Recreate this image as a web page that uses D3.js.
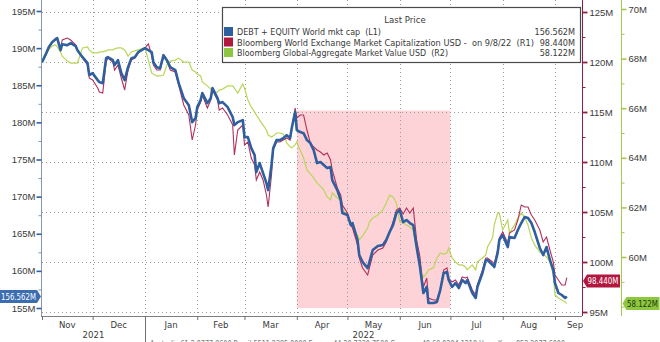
<!DOCTYPE html>
<html><head><meta charset="utf-8">
<script src="https://cdn.jsdelivr.net/npm/d3@7"></script>
<style>
body{margin:0;background:#fff;}
svg{display:block;font-family:'DejaVu Sans Condensed','DejaVu Sans',sans-serif;}
text{white-space:pre;}
</style>
</head><body>
<svg id="c" width="660" height="342"></svg>
<script>
// ---------------- DATA ----------------
const dates = ["2021-11-01","2021-11-03","2021-11-05","2021-11-07","2021-11-09","2021-11-10","2021-11-12","2021-11-13","2021-11-16","2021-11-18","2021-11-21","2021-11-22","2021-11-25","2021-11-28","2021-11-29",
"2021-12-01","2021-12-04","2021-12-05","2021-12-07","2021-12-09","2021-12-10","2021-12-13","2021-12-14","2021-12-16","2021-12-18","2021-12-20","2021-12-22","2021-12-24","2021-12-26","2021-12-28","2021-12-30",
"2022-01-01","2022-01-03","2022-01-05","2022-01-06","2022-01-08","2022-01-10","2022-01-12","2022-01-14","2022-01-16","2022-01-19","2022-01-21","2022-01-24","2022-01-27","2022-01-29","2022-01-31",
"2022-02-01","2022-02-03","2022-02-04","2022-02-07","2022-02-09","2022-02-10","2022-02-13","2022-02-14","2022-02-16","2022-02-19","2022-02-22","2022-02-23","2022-02-25","2022-02-28",
"2022-03-01","2022-03-03","2022-03-05","2022-03-07","2022-03-08","2022-03-10","2022-03-12","2022-03-14","2022-03-15","2022-03-17","2022-03-18","2022-03-20","2022-03-22","2022-03-24","2022-03-26","2022-03-28","2022-03-29","2022-03-31",
"2022-04-01","2022-04-03","2022-04-05","2022-04-07","2022-04-09","2022-04-11","2022-04-13","2022-04-15","2022-04-17","2022-04-19","2022-04-21","2022-04-22","2022-04-25","2022-04-27","2022-04-28",
"2022-05-01","2022-05-03","2022-05-04","2022-05-07","2022-05-08","2022-05-10","2022-05-13","2022-05-14","2022-05-16","2022-05-19","2022-05-22","2022-05-24","2022-05-26","2022-05-28","2022-05-30",
"2022-06-01","2022-06-03","2022-06-05","2022-06-07","2022-06-09","2022-06-11","2022-06-13","2022-06-14","2022-06-15","2022-06-17","2022-06-18","2022-06-21","2022-06-23","2022-06-25","2022-06-27","2022-06-29","2022-06-30",
"2022-07-02","2022-07-04","2022-07-06","2022-07-08","2022-07-10","2022-07-11","2022-07-14","2022-07-16","2022-07-17","2022-07-20","2022-07-22","2022-07-23","2022-07-26","2022-07-27","2022-07-29","2022-07-30",
"2022-08-01","2022-08-04","2022-08-05","2022-08-08","2022-08-10","2022-08-12","2022-08-14","2022-08-16","2022-08-18","2022-08-20","2022-08-23","2022-08-25","2022-08-27","2022-08-29","2022-08-31",
"2022-09-01","2022-09-03","2022-09-05","2022-09-07","2022-09-08"];

// DEBT + EQUITY World mkt cap (L1), millions
const debtEquity = [188.11,189.05,190.13,190.80,191.20,191.34,189.72,190.53,190.40,190.67,190.26,189.72,188.78,187.97,186.36,
186.63,185.69,185.42,185.28,188.65,188.78,188.38,187.71,188.38,186.63,185.69,187.44,188.65,188.78,189.45,189.72,
189.99,189.72,189.45,188.11,187.44,187.30,189.05,188.38,187.44,187.03,185.28,183.26,182.32,180.03,180.57,
182.05,183.0,183.94,182.59,183.26,184.61,183.26,182.59,182.73,182.05,180.71,179.63,180.03,180.30,
178.01,178.01,176.53,175.59,173.30,174.52,173.17,171.82,170.88,174.25,176.53,177.61,177.61,177.88,178.28,177.88,179.23,181.38,
178.96,178.69,178.55,177.61,177.21,176.27,174.52,174.65,174.25,173.84,173.98,172.23,170.88,169.54,167.79,
167.52,166.17,166.44,164.15,162.13,161.19,160.38,161.19,162.81,163.34,163.48,164.15,165.23,166.17,167.79,
168.19,166.57,166.84,166.44,166.17,163.21,160.52,158.77,157.02,157.83,155.67,155.67,155.81,157.42,159.71,159.85,158.77,
157.83,158.36,157.69,158.77,158.36,158.77,157.02,156.35,157.83,159.71,161.46,161.46,160.79,160.52,162.40,164.15,
164.83,163.21,164.56,164.42,165.50,166.44,167.25,167.11,166.44,165.23,163.08,162.13,163.21,161.46,160.11,
158.36,157.02,156.75,156.35,156.562];

// Bloomberg World Exchange Market Capitalization USD (R1), millions
const worldExchange = [120.0,120.7,121.5,122.0,122.2,122.4,121.4,122.2,122.4,122.2,121.7,121.2,120.4,119.7,118.4,
118.2,117.4,117.0,116.9,120.0,120.4,120.0,119.2,119.7,118.4,117.2,119.2,120.2,120.4,120.9,121.2,
121.4,121.8,120.7,119.7,119.2,119.2,120.5,120.2,119.2,119.0,117.7,115.7,114.7,112.2,113.7,
115.2,116.0,116.7,115.4,116.2,117.2,116.2,115.2,115.4,114.7,113.7,110.7,113.2,113.7,
111.7,112.0,110.4,109.7,108.2,109.0,108.2,106.7,105.5,108.7,111.2,112.0,112.0,112.2,112.4,112.2,113.2,115.4,
114.4,114.7,114.7,113.2,111.9,111.5,111.2,111.0,110.7,110.9,110.2,109.2,107.4,106.7,105.7,
104.9,103.7,103.4,101.7,100.4,99.4,98.7,99.4,100.7,101.2,101.4,102.0,103.0,104.0,105.2,
105.4,104.8,105.4,104.9,105.4,102.2,100.5,98.7,97.5,98.4,96.4,96.2,96.2,97.2,99.2,99.4,98.4,
98.0,98.2,97.7,98.5,98.4,98.5,97.2,96.7,97.7,99.2,100.4,100.4,100.0,99.8,101.2,102.4,
103.0,101.9,102.9,103.2,104.2,105.7,105.5,105.5,104.7,104.2,103.2,102.0,102.5,101.2,100.0,
98.7,98.2,97.7,97.7,98.44];

// Bloomberg Global-Aggregate Market Value USD (R2), millions
const globalAgg = [67.86,68.10,68.35,68.51,68.55,68.47,68.27,68.10,67.90,67.82,67.82,67.82,68.43,68.47,68.35,
68.23,68.23,68.27,68.27,68.31,68.35,68.35,68.39,68.43,68.43,68.35,68.10,68.27,68.31,68.35,68.39,
68.43,67.94,67.42,67.38,67.30,67.30,67.34,67.74,67.90,67.94,68.02,67.86,67.86,67.54,67.46,
67.38,67.30,67.06,66.90,66.77,66.65,66.65,66.73,66.77,66.90,66.90,66.81,66.61,66.98,
66.81,66.33,66.05,65.85,65.73,65.52,65.32,65.12,64.92,64.84,64.88,65.00,65.00,64.96,64.60,64.44,64.40,64.52,
64.64,64.31,63.99,63.51,63.35,63.19,62.98,62.86,62.70,62.42,62.30,62.58,62.38,62.30,61.90,
61.69,61.41,61.17,60.89,60.69,60.85,61.17,61.41,61.57,61.69,61.90,62.18,62.50,62.42,62.18,
61.41,61.37,61.29,61.21,61.09,60.28,59.68,59.35,59.19,59.35,59.48,59.56,59.96,60.16,60.12,60.16,60.36,
59.96,59.80,59.68,59.68,59.60,59.48,59.68,59.48,59.80,59.96,60.08,60.40,60.77,61.29,61.77,61.77,
61.09,61.49,60.97,61.29,61.57,61.77,61.61,61.29,60.77,60.48,60.20,60.12,60.00,59.80,59.27,
58.47,58.35,58.27,58.19,58.122];

const leftTicks = [155,160,165,170,175,180,185,190,195];
const leftMinor = [157.5,162.5,167.5,172.5,177.5,182.5,187.5,192.5];
const r1Ticks = [95,100,105,110,115,120,125];
const r1Minor = [97.5,102.5,107.5,112.5,117.5,122.5];
const r2Ticks = [60,62,64,66,68,70];
const r2Minor = [58,59,61,63,65,67,69];
const monthLabels = ["Nov","Dec","Jan","Feb","Mar","Apr","May","Jun","Jul","Aug","Sep"];
const yearLabels = ["2021","2022"];
const legendTitle = "Last Price";
const legendNames = ["DEBT + EQUITY World mkt cap  (L1)",
  "Bloomberg World Exchange Market Capitalization USD -  on 9/8/22  (R1)",
  "Bloomberg Global-Aggregate Market Value USD  (R2)"];
const lastValues = ["156.562M","98.440M","58.122M"];
const shadeDates = ["2022-04-01","2022-07-01"];
const shadeValues = [155, 181.6];
const footer = "Australia 61 2 9777 8600 Brazil 5511 2395 9000 Europe 44 20 7330 7500 Germany 49 69 9204 1210 Hong Kong 852 2977 6000";

// ---------------- CHART ----------------
const parse = d3.utcParse("%Y-%m-%d");
const D = dates.map(parse);
const svg = d3.select("#c");
const C = {blue:"#2f5f9e", red:"#b1305c", green:"#b9d65a", redAx:"#8e1f42", greenAx:"#a6c94a",
           grid:"#9a9a9a", text:"#3a3a3a"};

const L = 42, R = 582, T = 0, B = 316;
const x = d3.scaleUtc().domain([parse("2021-11-01"), parse("2022-09-17")]).range([L, R]);
const yL = d3.scaleLinear().domain([155,195]).range([308,11]);
const yR1 = d3.scaleLinear().domain([95,125]).range([312,12]);
const yR2 = d3.scaleLinear().domain([60,70]).range([257,9]);

// shading
svg.append("rect")
  .attr("x", x(parse(shadeDates[0]))).attr("width", x(parse(shadeDates[1])) - x(parse(shadeDates[0])))
  .attr("y", yL(shadeValues[1])).attr("height", yL(shadeValues[0]) - yL(shadeValues[1]))
  .attr("fill", "#fdd3d7");

// grid
const months = d3.utcMonth.range(parse("2021-11-01"), parse("2022-10-01"));
svg.append("g").selectAll("line").data(months.slice(1)).join("line")
  .attr("x1", d => Math.round(x(d)) + 0.5).attr("x2", d => Math.round(x(d)) + 0.5)
  .attr("y1", T).attr("y2", B)
  .attr("stroke", C.grid).attr("stroke-dasharray", "1,3");
svg.append("g").selectAll("line").data(r1Ticks).join("line")
  .attr("x1", L).attr("x2", R)
  .attr("y1", d => Math.round(yR1(d)) + 0.5).attr("y2", d => Math.round(yR1(d)) + 0.5)
  .attr("stroke", C.grid).attr("stroke-dasharray", "1,3");

// lines
const mk = (ys, arr) => d3.line().x((d,i) => x(D[i])).y(d => ys(d))(arr);
svg.append("path").attr("d", mk(yR2, globalAgg)).attr("fill","none").attr("stroke",C.green).attr("stroke-width",1.2);
svg.append("path").attr("d", mk(yR1, worldExchange)).attr("fill","none").attr("stroke",C.red).attr("stroke-width",1.1);
svg.append("path").attr("d", mk(yL, debtEquity)).attr("fill","none").attr("stroke",C.blue).attr("stroke-width",2.6).attr("stroke-linejoin","round");

// bottom axis
svg.append("line").attr("x1", L-1).attr("x2", R).attr("y1", B+0.5).attr("y2", B+0.5).attr("stroke","#808080");
const xAx = svg.append("g").attr("transform", `translate(0,${B})`)
  .call(d3.axisBottom(x).tickValues(months.filter(d => x(d) <= R)).tickSize(4).tickFormat(""));
xAx.select(".domain").remove();
xAx.selectAll("line").attr("stroke","#707070");
// year separator
const jan1 = parse("2022-01-01");
svg.append("line").attr("x1", Math.round(x(jan1))+0.5).attr("x2", Math.round(x(jan1))+0.5)
  .attr("y1", B).attr("y2", 342).attr("stroke","#707070");
// month labels
months.slice(0, monthLabels.length).forEach((m, i) => {
  const n = d3.utcMonth.offset(m, 1);
  let cx = (x(m) + x(n)) / 2;
  cx = Math.min(cx, R - 7);
  svg.append("text").attr("x", cx).attr("y", 328).attr("text-anchor","middle")
    .attr("font-size", 9.5).attr("fill", C.text).text(monthLabels[i]);
});
// year labels
[[x.domain()[0], jan1], [jan1, x.domain()[1]]].forEach((r, i) => {
  svg.append("text").attr("x", (x(r[0]) + x(r[1])) / 2).attr("y", 338).attr("text-anchor","middle")
    .attr("font-size", 9.5).attr("fill", C.text).text(yearLabels[i]);
});
// footer (cut off at bottom of the picture, as in the source)
svg.append("text").attr("x", 150).attr("y", 346.5).attr("font-size", 8)
  .attr("textLength", 415).attr("lengthAdjust", "spacingAndGlyphs").attr("fill","#777").text(footer);

// left axis
svg.append("line").attr("x1", 41.5).attr("x2", 41.5).attr("y1", T).attr("y2", B).attr("stroke","#8797b3");
const lAx = svg.append("g").attr("transform","translate(41.5,0)")
  .call(d3.axisLeft(yL).tickValues(leftTicks).tickFormat(d => d + "M").tickSize(5).tickPadding(1));
lAx.select(".domain").remove();
lAx.selectAll("line").attr("stroke", C.blue).attr("stroke-width", 1.6);
lAx.selectAll("text").attr("font-size", 9.5).attr("fill", C.text).attr("font-family", null);
const lMin = svg.append("g").attr("transform","translate(41.5,0)")
  .call(d3.axisLeft(yL).tickValues(leftMinor).tickFormat("").tickSize(3));
lMin.select(".domain").remove();
lMin.selectAll("line").attr("stroke", "#7f93b8");

// right axis 1
svg.append("line").attr("x1", R+0.5).attr("x2", R+0.5).attr("y1", T).attr("y2", B).attr("stroke", C.redAx);
const r1 = svg.append("g").attr("transform",`translate(${R+0.5},0)`)
  .call(d3.axisRight(yR1).tickValues(r1Ticks).tickFormat(d => d + "M").tickSize(5).tickPadding(2));
r1.select(".domain").remove();
r1.selectAll("line").attr("stroke", C.redAx).attr("stroke-width", 1.8);
r1.selectAll("text").attr("font-size", 9.5).attr("fill", C.text).attr("font-family", null);
const r1m = svg.append("g").attr("transform",`translate(${R+0.5},0)`)
  .call(d3.axisRight(yR1).tickValues(r1Minor).tickFormat("").tickSize(3));
r1m.select(".domain").remove();
r1m.selectAll("line").attr("stroke", C.redAx);

// right axis 2
const R2X = 621.5;
svg.append("line").attr("x1", R2X).attr("x2", R2X).attr("y1", T).attr("y2", B).attr("stroke", C.greenAx);
const r2 = svg.append("g").attr("transform",`translate(${R2X},0)`)
  .call(d3.axisRight(yR2).tickValues(r2Ticks).tickFormat(d => d + "M").tickSize(5).tickPadding(2));
r2.select(".domain").remove();
r2.selectAll("line").attr("stroke", C.greenAx).attr("stroke-width", 1.6);
r2.selectAll("text").attr("font-size", 9.5).attr("fill", C.text).attr("font-family", null);
const r2m = svg.append("g").attr("transform",`translate(${R2X},0)`)
  .call(d3.axisRight(yR2).tickValues(r2Minor).tickFormat("").tickSize(3));
r2m.select(".domain").remove();
r2m.selectAll("line").attr("stroke", C.greenAx);

// last value labels
function tagLeft(yc, txt, fill, fg) { // pointing right, at left axis
  const h = 13, y0 = yc - h/2;
  svg.append("path").attr("d", `M0,${y0}H37L41,${yc}L37,${y0+h}H0Z`).attr("fill", fill);
  svg.append("text").attr("x", 1).attr("y", yc + 3.3).attr("font-size", 8.6)
    .attr("textLength", 35).attr("lengthAdjust", "spacingAndGlyphs").attr("fill", fg).text(txt);
}
function tagRight(x0, yc, w, txt, fill, fg) { // pointing left
  const h = 13, y0 = yc - h/2;
  svg.append("path").attr("d", `M${x0},${yc}L${x0+4},${y0}H${x0+w}V${y0+h}H${x0+4}Z`).attr("fill", fill);
  svg.append("text").attr("x", x0 + 4.5).attr("y", yc + 3.3).attr("font-size", 8.6)
    .attr("textLength", w - 6).attr("lengthAdjust", "spacingAndGlyphs").attr("fill", fg).text(txt);
}
tagLeft(yL(debtEquity[debtEquity.length-1]), lastValues[0], "#3b6db0", "#fff");
tagRight(R+1, yR1(worldExchange[worldExchange.length-1]) + 3.5, 37, lastValues[1], "#b3173f", "#fff");
tagRight(R2X+1, yR2(globalAgg[globalAgg.length-1]), 37, lastValues[2], "#8dc63f", "#1e3607");

// legend
const lg = svg.append("g");
lg.append("rect").attr("x", 222.5).attr("y", 7.5).attr("width", 358).attr("height", 55)
  .attr("fill", "#fff").attr("stroke", "#4a4a4a").attr("stroke-width", 1.2);
lg.append("text").attr("x", 405).attr("y", 23).attr("text-anchor","middle").attr("font-size", 9.5)
  .attr("fill", C.text).text(legendTitle);
const sw = [C.blue, "#b3173f", "#8dc63f"];
const legendLen = [144, 297, 211];
legendNames.forEach((n, i) => {
  const yb = 35 + i * 10.5;
  lg.append("rect").attr("x", 224).attr("y", yb - 8).attr("width", 9).attr("height", 9).attr("fill", sw[i]);
  lg.append("text").attr("x", 237).attr("y", yb).attr("font-size", 9)
    .attr("textLength", legendLen[i]).attr("lengthAdjust", "spacingAndGlyphs")
    .attr("fill", C.text).text(n);
  lg.append("text").attr("x", 575).attr("y", yb).attr("text-anchor","end").attr("font-size", 9)
    .attr("fill", C.text).text(lastValues[i]);
});
</script>
</body></html>
